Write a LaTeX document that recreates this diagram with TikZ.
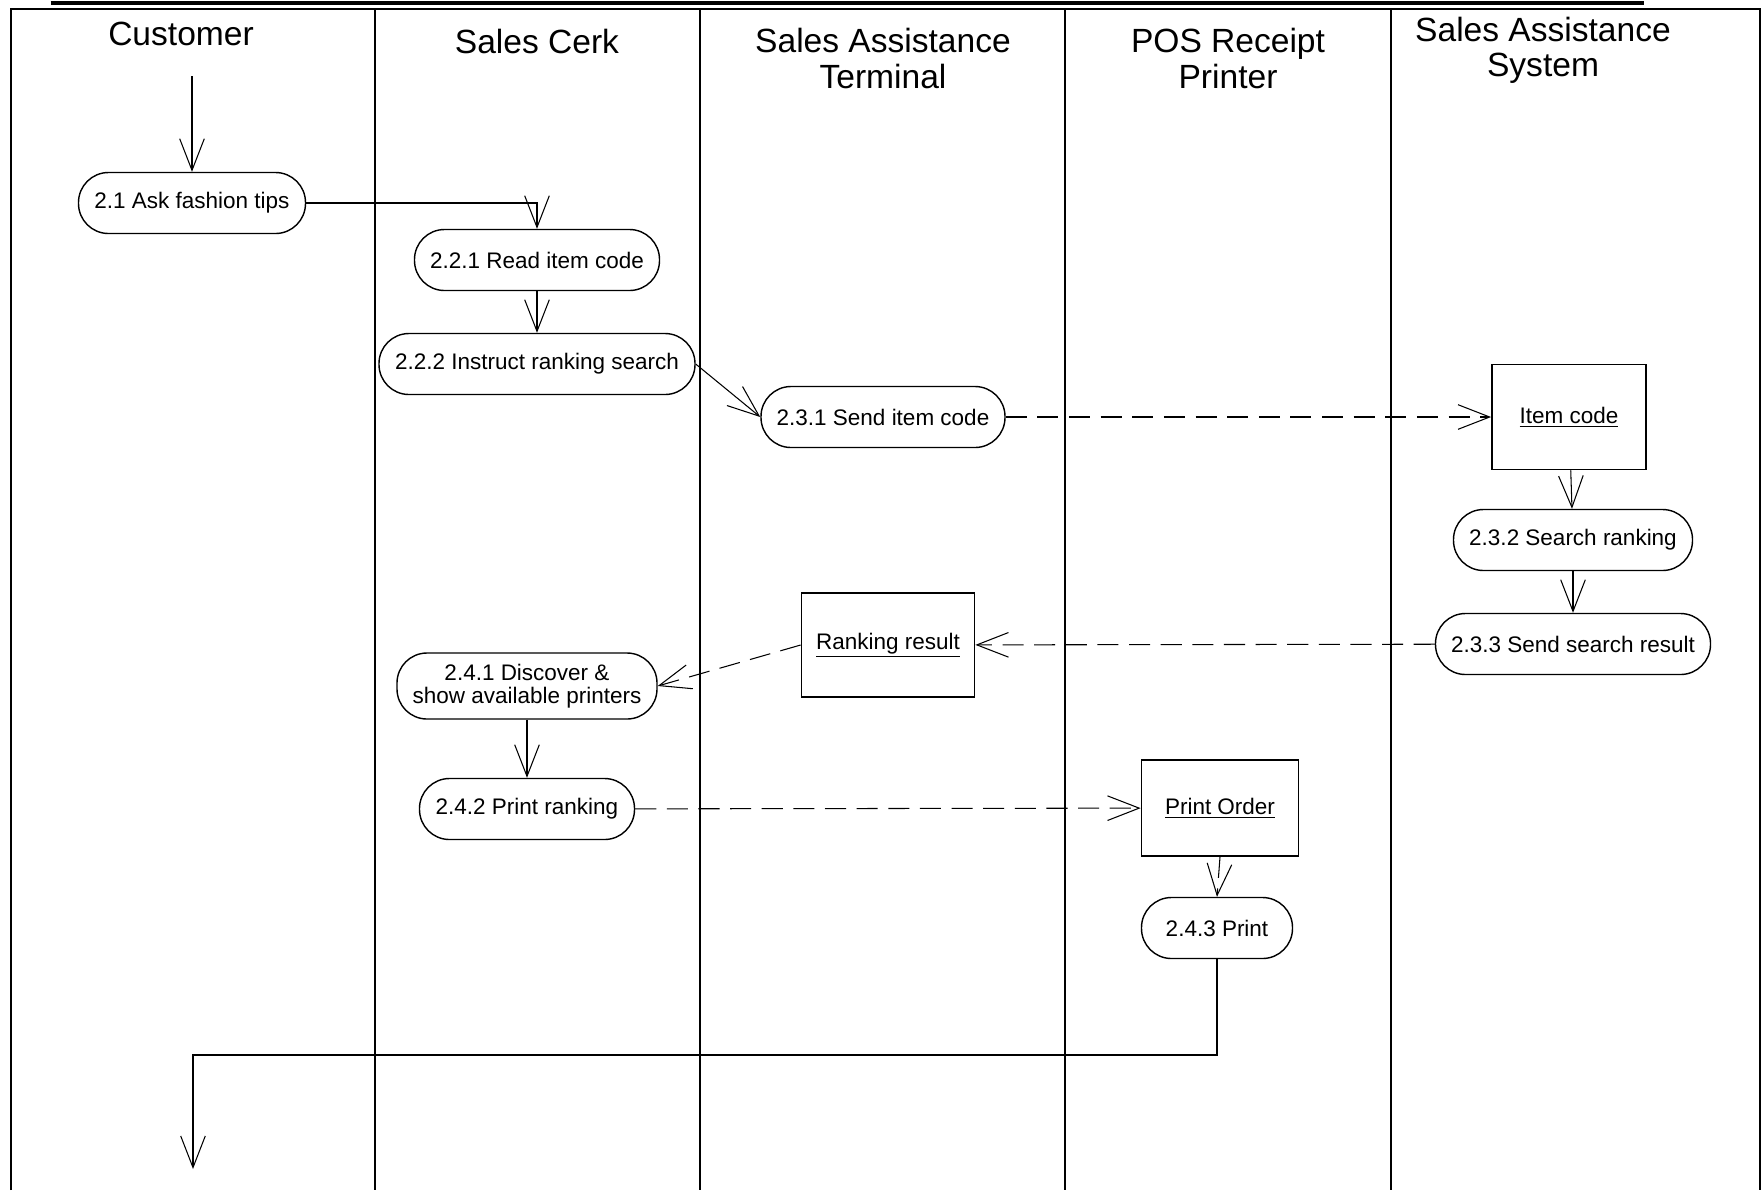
\documentclass[tikz,border=0pt]{standalone}
\usepackage{fontspec}
\setmainfont{Liberation Sans}
\usetikzlibrary{arrows.meta}

\begin{document}
\begin{tikzpicture}[
    lanetitle/.style={font=\fontsize{19.1}{20}\selectfont, align=center},
    activity/.style={draw, line width=0.8pt, rounded corners=0.6cm, minimum height=1.22cm,
      font=\fontsize{12.8}{13.4}\selectfont, align=center},
    object/.style={draw, line width=1pt, font=\fontsize{12.8}{13.4}\selectfont},
    flow/.style={line width=0.6pt, -{Straight Barb[length=18pt,width=14pt]}},
    objflow/.style={flow, dash pattern=on 12pt off 6pt}
  ]
  \useasboundingbox (0,0) rectangle (35.24,-23.8);
  % swimlanes
  \draw[line width=1.8pt] (1.01,-0.06) -- (32.88,-0.06);
  \draw[line width=1pt] (0.22,-23.8) -- (0.22,-0.18) -- (35.2,-0.18) -- (35.2,-23.8);
  \foreach \x in {7.5,14,21.3,27.82}
    \draw[line width=1pt] (\x,-0.18) -- (\x,-23.8);
  \node[lanetitle] (customer) at (3.62,-0.67) {Customer};
  \node[lanetitle] (clerk) at (10.74,-0.83) {Sales Cerk};
  \node[lanetitle] (terminal) at (17.66,-1.17) {Sales Assistance\\Terminal};
  \node[lanetitle] (printer) at (24.56,-1.17) {POS Receipt\\Printer};
  \node[lanetitle] (system) at (30.86,-1.0) {Sales Assistance\\System};

  % activities and objects
  \node[activity, minimum width=4.54cm] (ask) at (3.84,-4.06) {2.1 Ask fashion tips};
  \node[activity, minimum width=4.9cm] (read) at (10.74,-5.2) {2.2.1 Read item code};
  \node[activity, minimum width=6.32cm] (instruct) at (10.74,-7.28) {2.2.2 Instruct ranking search};
  \node[activity, minimum width=4.88cm] (send) at (17.66,-8.34) {2.3.1 Send item code};
  \node[object, minimum width=3.08cm, minimum height=2.1cm] (itemcode) at (31.38,-8.34) {\underline{Item code}};
  \node[activity, minimum width=4.78cm] (search) at (31.46,-10.8) {2.3.2 Search ranking};
  \node[activity, minimum width=5.5cm] (sendres) at (31.46,-12.88) {2.3.3 Send search result};
  \node[object, minimum width=3.46cm, minimum height=2.08cm] (rankres) at (17.76,-12.9) {\underline{Ranking result}};
  \node[activity, minimum width=5.2cm, minimum height=1.32cm] (discover) at (10.54,-13.72) {2.4.1 Discover \&\\show available printers};
  \node[activity, minimum width=4.3cm] (printrank) at (10.54,-16.18) {2.4.2 Print ranking};
  \node[object, minimum width=3.14cm, minimum height=1.92cm] (printorder) at (24.4,-16.16) {\underline{Print Order}};
  \node[activity, minimum width=3.02cm] (print) at (24.34,-18.56) {2.4.3 Print};

  \coordinate (start) at (3.84,-1.52);
  \coordinate (back) at (3.86,-21.1);
  \coordinate (finish) at (3.86,-23.38);

  % control flow
  \draw[flow] (start) -- (ask);
  \draw[flow] (ask.east) -| (read.north);
  \draw[flow] (read) -- (instruct);
  \draw[flow] (instruct.east) -- (send.west);
  \draw[flow] (itemcode) -- (search);
  \draw[flow] (search) -- (sendres);
  \draw[flow] (discover) -- (printrank);
  \draw[flow] (print.south) |- (back) -- (finish);

  % object flow
  \draw[objflow] (send) -- (itemcode);
  \draw[objflow] (sendres) -- (rankres);
  \draw[objflow] (rankres.west) -- (discover.east);
  \draw[objflow] (printrank) -- (printorder);
  \draw[objflow] (printorder.south) -- (print.north);
\end{tikzpicture}
\end{document}
